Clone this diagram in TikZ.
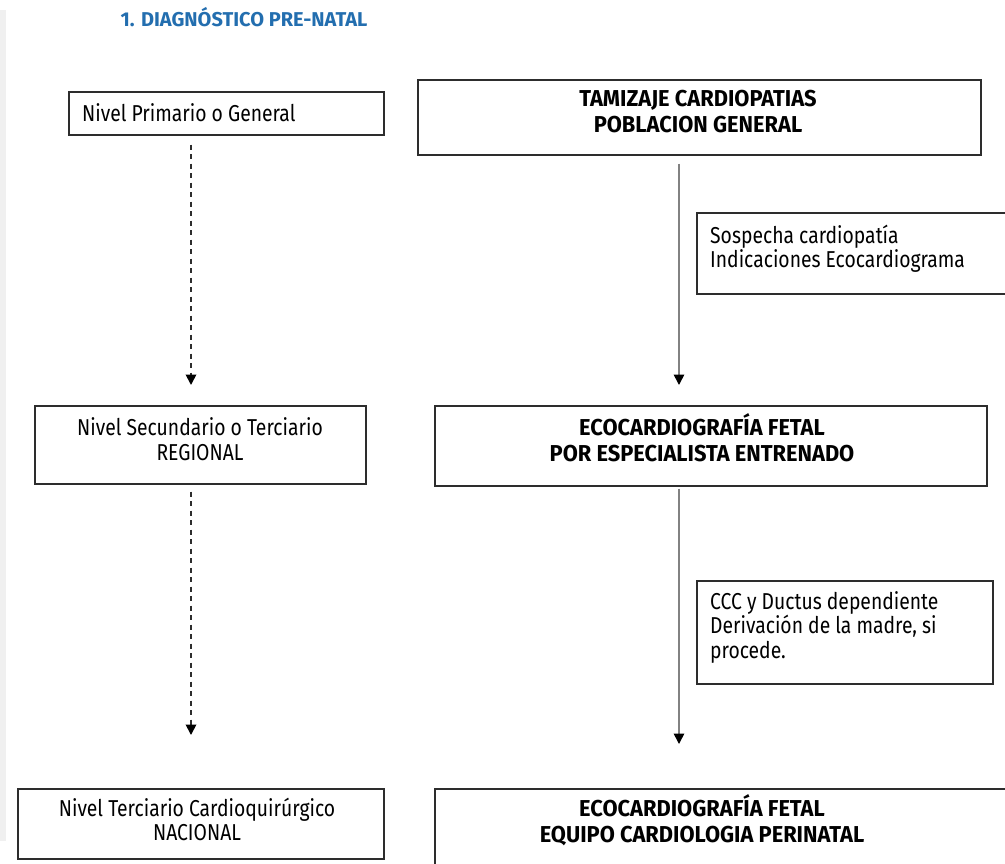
\documentclass[tikz,border=0pt]{standalone}
\usepackage{fontspec}
\setmainfont{Fira Sans}
\newfontfamily\regfont[FakeStretch=0.84]{Fira Sans}
\newfontfamily\boldfont[FakeStretch=0.95]{Fira Sans}
\usetikzlibrary{arrows.meta}
\definecolor{titleblue}{RGB}{35,110,175}
\definecolor{boxline}{RGB}{45,45,45}
\definecolor{arrgray}{RGB}{130,130,130}
\definecolor{stripgray}{RGB}{240,240,240}
\begin{document}
\begin{tikzpicture}[x=1pt,y=-1pt,
  box/.style={draw=boxline, line width=1.6pt, rectangle, inner sep=0pt, anchor=north west},
  regtxt/.style={inner sep=0pt, align=center, font=\regfont\fontsize{23}{24.5}\selectfont},
  lefttxt/.style={regtxt, align=left, anchor=west},
  boldtxt/.style={inner sep=0pt, align=center, font=\boldfont\fontsize{23}{25.5}\selectfont\bfseries},
  dasharr/.style={draw=boxline, line width=1.8pt, dash pattern=on 5pt off 4.5pt,
    -{Triangle[width=10.5pt,length=10.5pt,color=black]}},
  solarr/.style={draw=arrgray, line width=1.6pt,
    -{Triangle[width=10.5pt,length=10.5pt,color=black]}}
]
\useasboundingbox (0,0) rectangle (1005,863);
\clip (0,0) rectangle (1005,863);
\fill[stripgray] (0,10) rectangle (6,841);

\node[inner sep=0pt, font=\fontsize{20}{22}\selectfont\bfseries, text=titleblue] (T) at (244,17.5) {1. DIAGNÓSTICO PRE-NATAL};

% boxes
\node[box, minimum width=315pt, minimum height=43pt] (A) at (68,91) {};
\node[box, minimum width=563pt, minimum height=75pt] (B) at (417,79) {};
\node[box, minimum width=320pt, minimum height=81pt] (C) at (696,212) {};
\node[box, minimum width=331pt, minimum height=78pt] (D) at (34,405) {};
\node[box, minimum width=552pt, minimum height=80pt] (E) at (434,405) {};
\node[box, minimum width=296pt, minimum height=103pt] (F) at (696,580) {};
\node[box, minimum width=366pt, minimum height=70pt] (G) at (17,788) {};
\node[box, minimum width=600pt, minimum height=100pt] (H) at (434,788) {};

% texts
\node[lefttxt] (At) at (82,112.5) {Nivel Primario o General};
\node[boldtxt] (Bt) at (698,111.5) {TAMIZAJE CARDIOPATIAS\\POBLACION GENERAL};
\node[lefttxt] (Ct) at (710,248.5) {Sospecha cardiopatía\\Indicaciones Ecocardiograma};
\node[regtxt] (Dt) at (200,439) {Nivel Secundario o Terciario\\REGIONAL};
\node[boldtxt] (Et) at (702,437.5) {ECOCARDIOGRAFÍA FETAL\\POR ESPECIALISTA ENTRENADO};
\node[lefttxt] (Ft) at (710,627) {CCC y Ductus dependiente\\Derivación de la madre, si\\procede.};
\node[regtxt] (Gt) at (197,819.5) {Nivel Terciario Cardioquirúrgico\\NACIONAL};
\node[boldtxt] (Ht) at (702,820) {ECOCARDIOGRAFÍA FETAL\\EQUIPO CARDIOLOGIA PERINATAL};

\coordinate (colL) at (191,0);
\coordinate (colR) at (679,0);

\draw[dasharr, shorten <=9pt, shorten >=20pt] (A.south -| colL) -- (D.north -| colL);
\draw[dasharr, shorten <=7pt, shorten >=53pt] (D.south -| colL) -- (G.north -| colL);
\draw[solarr, shorten <=8pt, shorten >=20pt] (B.south -| colR) -- (E.north -| colR);
\draw[solarr, shorten <=2pt, shorten >=44pt] (E.south -| colR) -- (H.north -| colR);
\end{tikzpicture}
\end{document}
